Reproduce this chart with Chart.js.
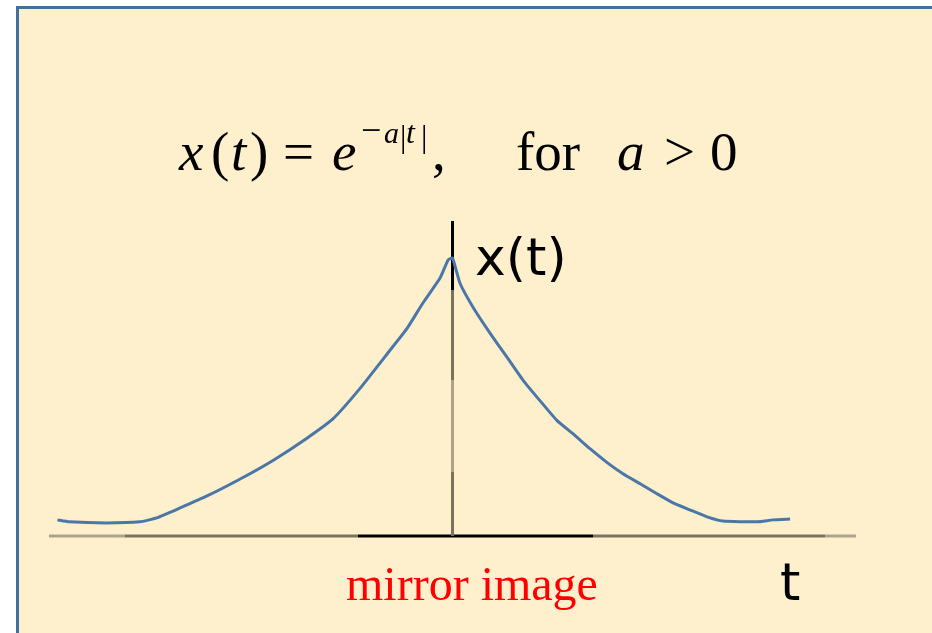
<!DOCTYPE html>
<html>
<head>
<meta charset="utf-8">
<script src="https://cdn.jsdelivr.net/npm/chart.js@4/dist/chart.umd.min.js"></script>
<style>
  html, body { margin: 0; padding: 0; background: #ffffff; }
  #wrap { position: relative; width: 932px; height: 633px; overflow: hidden; background: #ffffff; }
  #panel { position: absolute; left: 16px; top: 6px; width: 940px; height: 650px;
           background: #FEF0CD; border-left: 3px solid #41719C; border-top: 3px solid #41719C; }
  #c { position: absolute; left: 0; top: 0; }
</style>
</head>
<body>
<div id="wrap">
  <div id="panel"></div>
  <canvas id="c" width="932" height="633"></canvas>
</div>
<script>
// ---- data ----
const tValues = [-11.75, -11.4, -10.3, -9.3, -8.8, -8.1, -7.3, -6.3, -5.35, -4.35, -3.55, -2.75, -1.86, -1.35, -0.88, -0.37, -0.13, 0,
                 0.22, 0.61, 1.12, 1.62, 2.1, 2.6, 3.11, 3.58, 4.09, 4.6, 5.07, 5.58, 6.08, 6.56, 7.06, 7.57, 8.04, 9.06, 9.53, 10.04];
const xValues = [0.058, 0.051, 0.047, 0.051, 0.065, 0.101, 0.144, 0.206, 0.271, 0.35, 0.422, 0.531, 0.668, 0.747, 0.838, 0.928, 0.993, 1.0,
                 0.91, 0.823, 0.729, 0.643, 0.56, 0.487, 0.415, 0.368, 0.314, 0.264, 0.224, 0.188, 0.152, 0.119, 0.094, 0.069, 0.054, 0.051, 0.058, 0.061];
const tRange = [-12, 12];
const yRange = [0, 1.133];

// ---- text ----
const formulaLHS = ['x', '(', 't', ')', '='];
const formulaBase = 'e';
const formulaExp = ['\u2212', 'a', '|', 't', '|'];
const formulaRest = [',', 'for', 'a', '>', '0'];
const yLabel = 'x(t)';
const xLabel = 't';
const noteLabel = 'mirror image';

const points = tValues.map((t, i) => ({ x: t, y: xValues[i] }));

const serif = '"Liberation Serif", "Times New Roman", serif';
const sans = '"DejaVu Sans", sans-serif';

const decorPlugin = {
  id: 'decor',
  beforeDatasetsDraw(chart) {
    const ctx = chart.ctx;
    const a = chart.chartArea;
    const xs = chart.scales.x, ys = chart.scales.y;
    const y0 = ys.getPixelForValue(0);
    const x0 = xs.getPixelForValue(0);
    ctx.save();
    ctx.lineWidth = 3;
    ctx.lineCap = 'butt';
    const hSeg = [[a.left, 125, '#ADA38A'], [125, 358, '#7A735E'], [358, 593, '#000000'], [593, 825, '#7A735E'], [825, a.right, '#ADA38A']];
    hSeg.forEach(s => { ctx.strokeStyle = s[2]; ctx.beginPath(); ctx.moveTo(s[0], y0); ctx.lineTo(s[1], y0); ctx.stroke(); });
    const vSeg = [[a.top, 290, '#000000'], [290, 380, '#7A735E'], [380, 472, '#ADA38A'], [472, y0, '#7A735E']];
    vSeg.forEach(s => { ctx.strokeStyle = s[2]; ctx.beginPath(); ctx.moveTo(x0, s[0]); ctx.lineTo(x0, s[1]); ctx.stroke(); });
    ctx.restore();
  },
  afterDraw(chart) {
    const ctx = chart.ctx;
    ctx.save();
    ctx.textAlign = 'left';
    ctx.textBaseline = 'alphabetic';
    ctx.fillStyle = '#000000';
    const big = 55, base = 170, supBase = 143;
    const it = (s) => 'italic ' + s + 'px ' + serif;
    const up = (s) => s + 'px ' + serif;
    const lhsX = [179, 211, 231, 250, 283];
    const lhsF = [it(big), up(big), it(big), up(big), up(big)];
    formulaLHS.forEach((s, i) => { ctx.font = lhsF[i]; ctx.fillText(s, lhsX[i], base); });
    ctx.font = it(big); ctx.fillText(formulaBase, 332, base);
    const expX = [361, 384, 400, 406, 421];
    const expF = [up(36), it(30), up(32), it(32), up(32)];
    const expY = [supBase - 1, supBase, supBase + 4, supBase, supBase + 4];
    formulaExp.forEach((s, i) => { ctx.font = expF[i]; ctx.fillText(s, expX[i], expY[i]); });
    const restX = [432, 516, 617, 664, 710];
    const restF = [up(big), up(big), it(big), up(big), up(big)];
    formulaRest.forEach((s, i) => { ctx.font = restF[i]; ctx.fillText(s, restX[i], base); });
    ctx.font = '52px ' + sans;
    ctx.fillText(yLabel, 475, 275);
    ctx.fillText(xLabel, 780, 600);
    ctx.fillStyle = '#FF0000';
    ctx.font = '48px ' + serif;
    ctx.fillText(noteLabel, 346, 600);
    ctx.restore();
  }
};

new Chart(document.getElementById('c'), {
  type: 'line',
  data: {
    datasets: [{
      data: points,
      borderColor: '#4A77A8',
      borderWidth: 3,
      pointRadius: 0,
      tension: 0.15,
      fill: false
    }]
  },
  options: {
    responsive: false,
    animation: false,
    layout: { padding: { left: 49, right: 76, top: 221, bottom: 97 } },
    plugins: { legend: { display: false }, title: { display: false }, tooltip: { enabled: false } },
    scales: {
      x: { type: 'linear', min: tRange[0], max: tRange[1], display: false },
      y: { type: 'linear', min: yRange[0], max: yRange[1], display: false }
    }
  },
  plugins: [decorPlugin]
});
</script>
</body>
</html>
